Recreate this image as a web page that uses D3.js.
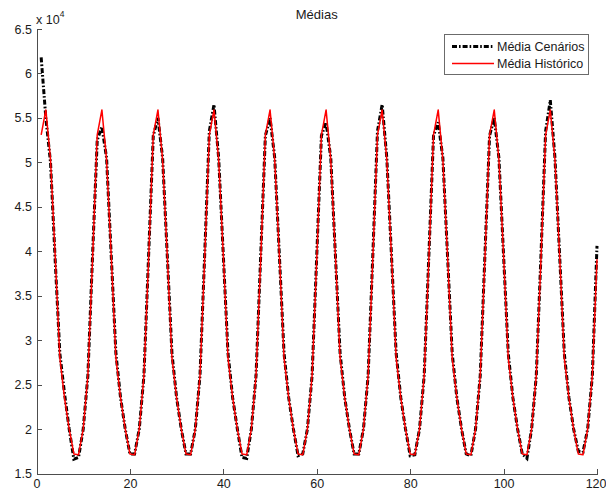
<!DOCTYPE html>
<html>
<head>
<meta charset="utf-8">
<script src="https://cdn.jsdelivr.net/npm/d3@7"></script>
<style>
  html, body { margin: 0; padding: 0; background: #fff; }
  svg { display: block; font-family: "Liberation Sans", Arial, Helvetica, sans-serif; }
</style>
</head>
<body>
<svg id="chart" width="606" height="493"></svg>
<script>
// Monthly averages (units of 10^4), months 1..120
const months = d3.range(1, 121);

// Scenario mean, one value per month
const mediaCenarios = [
  6.18, 5.50, 5.00, 3.90, 2.85, 2.40, 2.00, 1.66, 1.68, 2.00, 2.60, 3.95,
  5.25, 5.40, 5.05, 3.95, 2.85, 2.35, 2.00, 1.72, 1.72, 2.00, 2.60, 3.95,
  5.30, 5.50, 5.05, 3.95, 2.85, 2.35, 2.00, 1.72, 1.72, 2.00, 2.60, 3.95,
  5.35, 5.65, 5.05, 3.95, 2.85, 2.35, 2.00, 1.68, 1.67, 2.00, 2.60, 3.95,
  5.30, 5.50, 5.05, 3.95, 2.85, 2.35, 2.00, 1.70, 1.72, 2.00, 2.60, 3.95,
  5.30, 5.45, 5.05, 3.95, 2.85, 2.35, 2.00, 1.72, 1.72, 2.00, 2.60, 3.95,
  5.35, 5.65, 5.05, 3.95, 2.85, 2.35, 2.00, 1.70, 1.71, 2.00, 2.60, 3.95,
  5.30, 5.45, 5.05, 3.95, 2.85, 2.35, 2.00, 1.72, 1.70, 2.00, 2.60, 3.95,
  5.30, 5.50, 5.05, 3.95, 2.85, 2.35, 2.00, 1.72, 1.67, 2.00, 2.60, 3.95,
  5.35, 5.70, 5.05, 3.95, 2.85, 2.35, 2.00, 1.75, 1.74, 2.00, 2.60, 4.06
];

// Historical mean, one value per month
const mediaHistorico = [
  5.31, 5.59, 5.03, 3.95, 2.80, 2.35, 2.00, 1.72, 1.71, 2.00, 2.60, 3.91,
  5.31, 5.59, 5.03, 3.95, 2.80, 2.35, 2.00, 1.72, 1.71, 2.00, 2.60, 3.91,
  5.31, 5.59, 5.03, 3.95, 2.80, 2.35, 2.00, 1.72, 1.71, 2.00, 2.60, 3.91,
  5.31, 5.59, 5.03, 3.95, 2.80, 2.35, 2.00, 1.72, 1.71, 2.00, 2.60, 3.91,
  5.31, 5.59, 5.03, 3.95, 2.80, 2.35, 2.00, 1.72, 1.71, 2.00, 2.60, 3.91,
  5.31, 5.59, 5.03, 3.95, 2.80, 2.35, 2.00, 1.72, 1.71, 2.00, 2.60, 3.91,
  5.31, 5.59, 5.03, 3.95, 2.80, 2.35, 2.00, 1.72, 1.71, 2.00, 2.60, 3.91,
  5.31, 5.59, 5.03, 3.95, 2.80, 2.35, 2.00, 1.72, 1.71, 2.00, 2.60, 3.91,
  5.31, 5.59, 5.03, 3.95, 2.80, 2.35, 2.00, 1.72, 1.71, 2.00, 2.60, 3.91,
  5.31, 5.59, 5.03, 3.95, 2.80, 2.35, 2.00, 1.72, 1.71, 2.00, 2.60, 3.91
];

const xTicks = [0, 20, 40, 60, 80, 100, 120];
const yTicks = [1.5, 2, 2.5, 3, 3.5, 4, 4.5, 5, 5.5, 6, 6.5];
const seriesNames = ["Média Cenários", "Média Histórico"];
const titleText = "Médias";

const svg = d3.select("#chart");
const plotLeft = 36.5, plotRight = 597, plotTop = 29, plotBottom = 473.5;

const x = d3.scaleLinear().domain([0, 120]).range([plotLeft, plotRight]);
const y = d3.scaleLinear().domain([1.5, 6.5]).range([plotBottom, plotTop]);

const axisColor = "#4d4d4d";
const textColor = "#1a1a1a";
const fontSize = 12.5;

// Bottom axis (ticks pointing inward)
const gx = svg.append("g").attr("transform", `translate(0,${plotBottom})`)
  .call(d3.axisBottom(x).tickValues(xTicks).tickSizeInner(-5).tickSizeOuter(0).tickPadding(6)
    .tickFormat(d3.format("d")));
// Left axis (ticks pointing inward)
const gy = svg.append("g").attr("transform", `translate(${plotLeft},0)`)
  .call(d3.axisLeft(y).tickValues(yTicks).tickSizeInner(-5).tickSizeOuter(0).tickPadding(4.5)
    .tickFormat(d => d3.format("~g")(d)));

[gx, gy].forEach(g => {
  g.select(".domain").attr("stroke", axisColor).attr("shape-rendering", "crispEdges");
  g.selectAll(".tick line").attr("stroke", axisColor).attr("shape-rendering", "crispEdges");
  g.selectAll(".tick text").attr("fill", textColor).attr("font-size", fontSize)
    .attr("font-family", "Liberation Sans, Arial, sans-serif");
});
// keep the last x label inside the canvas
gx.selectAll(".tick text").filter(d => d === 120)
  .attr("text-anchor", "end").attr("x", 606 - x(120));

// Exponent label
const expo = svg.append("text").attr("x", plotLeft - 0.5).attr("y", 23.5)
  .attr("font-size", fontSize).attr("fill", textColor);
expo.append("tspan").text("x 10");
expo.append("tspan").attr("font-size", 8.5).attr("dy", -6.5).text("4");

// Title
svg.append("text").attr("x", (plotLeft + plotRight) / 2).attr("y", 19)
  .attr("text-anchor", "middle").attr("font-size", 13).attr("fill", textColor)
  .text(titleText);

const line = d3.line().x((d, i) => x(months[i])).y(d => y(d));

const dashDot = "5,2,1.6,2";

svg.append("path").datum(mediaCenarios)
  .attr("d", line).attr("fill", "none").attr("stroke", "#000")
  .attr("stroke-width", 3).attr("stroke-dasharray", dashDot);

svg.append("path").datum(mediaHistorico)
  .attr("d", line).attr("fill", "none").attr("stroke", "#ff0000")
  .attr("stroke-width", 1.5).attr("stroke-linejoin", "round");

// Legend
const lg = svg.append("g");
lg.append("rect").attr("x", 444.5).attr("y", 34.5).attr("width", 144).attr("height", 40)
  .attr("fill", "#fff").attr("stroke", "#6b6b6b").attr("stroke-width", 1);
const rows = [
  { name: seriesNames[0], y: 46.5, stroke: "#000", width: 3, dash: dashDot },
  { name: seriesNames[1], y: 63.5, stroke: "#ff0000", width: 1.5, dash: "none" }
];
rows.forEach(r => {
  lg.append("line").attr("x1", 452).attr("x2", 494).attr("y1", r.y).attr("y2", r.y)
    .attr("stroke", r.stroke).attr("stroke-width", r.width)
    .attr("stroke-dasharray", r.dash);
  lg.append("text").attr("x", 497).attr("y", r.y).attr("dy", "0.35em")
    .attr("font-size", fontSize).attr("fill", textColor).text(r.name);
});
</script>
</body>
</html>
